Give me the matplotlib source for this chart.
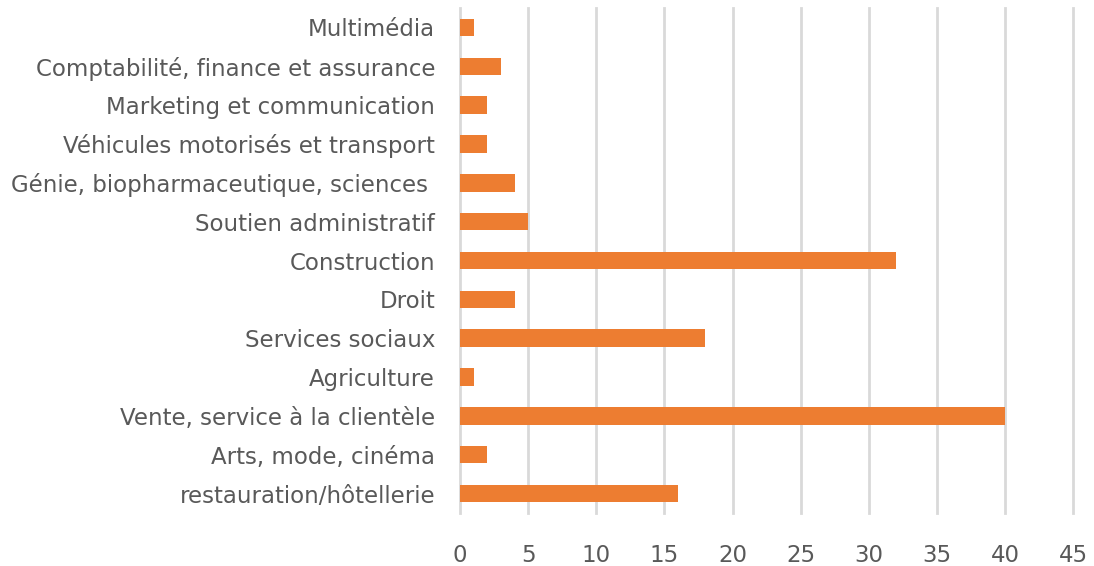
import matplotlib
matplotlib.use('Agg')
import matplotlib.pyplot as plt
import numpy as np

categories = ["restauration/hôtellerie", "Arts, mode, cinéma", "Vente, service à la clientèle",
              "Agriculture", "Services sociaux", "Droit", "Construction",
              "Soutien administratif", "Génie, biopharmaceutique, sciences ",
              "Véhicules motorisés et transport", "Marketing et communication",
              "Comptabilité, finance et assurance", "Multimédia"]
values = [16, 2, 40, 1, 18, 4, 32, 5, 4, 2, 2, 3, 1]
xticks = [0, 5, 10, 15, 20, 25, 30, 35, 40, 45]

fig = plt.figure(figsize=(10.94, 5.66), dpi=100)
ax = fig.add_axes([0.4205, 0.0936, 0.5605, 0.8923])

y = np.arange(len(categories))
ax.barh(y, values, height=0.45, color='#ED7D31', zorder=3)

ax.set_xlim(0, 45)
ax.set_ylim(-0.5, len(categories) - 0.5)
ax.set_xticks(xticks)
ax.set_yticks(y)
ax.set_yticklabels(categories)
ax.grid(axis='x', color='#d9d9d9', linewidth=2, zorder=0)
for gl in ax.get_xgridlines():
    gl.set_clip_on(False)
for s in ax.spines.values():
    s.set_visible(False)
ax.tick_params(axis='both', length=0, labelsize=16.5, colors='#595959')
ax.tick_params(axis='x', pad=22)
ax.tick_params(axis='y', pad=18)

fig.savefig('out.png', dpi=100)
